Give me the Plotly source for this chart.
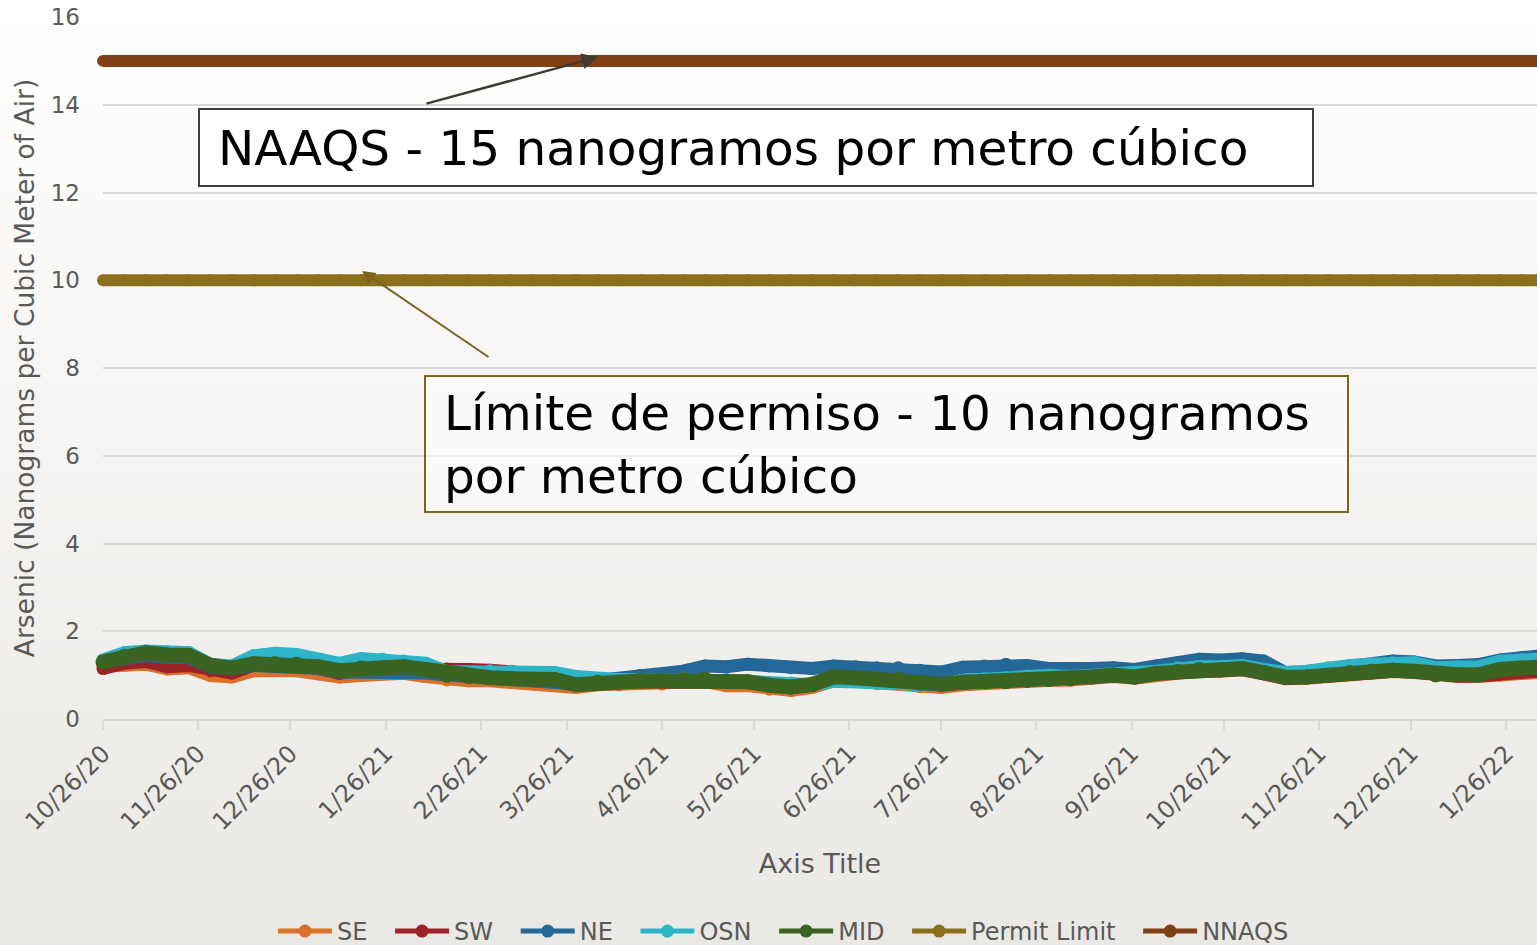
import pandas as pd
import plotly.graph_objects as go

# ---------------- data ----------------
dates = list(pd.date_range("2020-10-26", periods=67, freq="7D")) + [pd.Timestamp("2022-02-05")]

SE = [1.20, 1.22, 1.25, 1.14, 1.17, 0.99, 0.96, 1.10, 1.11, 1.10, 1.03, 0.96,
      0.99, 1.03, 1.04, 0.97, 0.89, 0.87, 0.87, 0.84, 0.80, 0.81, 0.72,
      0.78, 0.78, 0.81, 0.80, 0.84, 0.86, 0.76, 0.76, 0.68, 0.65, 0.72,
      0.87, 0.86, 0.81, 0.80, 0.74, 0.72, 0.78, 0.82, 0.83, 0.86, 0.88,
      0.89, 0.93, 0.97, 0.93, 1.01, 1.05, 1.10, 1.09, 1.12, 1.03, 0.92,
      0.93, 0.97, 1.03, 1.06, 1.08, 1.06, 0.98, 0.97, 0.97, 1.00, 1.04, 1.06]

SW = [1.15, 1.27, 1.31, 1.19, 1.22, 1.10, 1.05, 1.23, 1.23, 1.22, 1.16, 1.04,
      1.13, 1.14, 1.15, 1.10, 1.14, 1.13, 1.11, 1.08, 1.03, 1.00, 0.88,
      0.82, 0.82, 0.85, 0.86, 0.88, 0.89, 0.83, 0.83, 0.75, 0.71, 0.77,
      0.92, 0.92, 0.88, 0.88, 0.80, 0.77, 0.82, 0.84, 0.84, 0.87, 0.89,
      0.90, 0.94, 0.98, 0.94, 1.02, 1.06, 1.11, 1.10, 1.13, 1.04, 0.93,
      0.94, 0.98, 1.04, 1.07, 1.09, 1.07, 0.99, 0.98, 0.98, 1.03, 1.06, 1.09]

NE = [1.30, 1.40, 1.45, 1.40, 1.40, 1.18, 1.14, 1.22, 1.22, 1.20, 1.15, 1.07,
      1.08, 1.10, 1.10, 1.05, 1.00, 0.97, 0.95, 0.93, 0.90, 0.88, 0.80,
      0.88, 0.92, 1.00, 1.00, 1.09, 1.21, 1.19, 1.25, 1.21, 1.17, 1.15,
      1.21, 1.19, 1.17, 1.17, 1.11, 1.07, 1.18, 1.21, 1.25, 1.22, 1.15,
      1.13, 1.15, 1.17, 1.13, 1.21, 1.28, 1.36, 1.345, 1.375, 1.32, 1.06,
      1.07, 1.15, 1.20, 1.24, 1.32, 1.30, 1.21, 1.22, 1.24, 1.345, 1.40, 1.43]

OSN = [1.35, 1.51, 1.55, 1.53, 1.51, 1.25, 1.21, 1.44, 1.50, 1.47, 1.36, 1.27,
       1.375, 1.36, 1.32, 1.27, 1.08, 1.07, 1.10, 1.09, 1.06, 1.06, 0.97,
       0.92, 0.90, 0.90, 0.90, 0.93, 0.93, 0.90, 0.86, 0.83, 0.82, 0.78,
       0.86, 0.86, 0.84, 0.81, 0.78, 0.76, 0.88, 0.92, 0.94, 0.98, 0.995,
       0.97, 0.98, 1.00, 1.06, 1.09, 1.17, 1.19, 1.19, 1.22, 1.13, 1.06,
       1.09, 1.17, 1.22, 1.25, 1.28, 1.28, 1.17, 1.19, 1.19, 1.32, 1.345, 1.36]

MID = [1.30, 1.43, 1.51, 1.46, 1.45, 1.22, 1.16, 1.26, 1.26, 1.25, 1.19, 1.10,
       1.16, 1.17, 1.19, 1.13, 1.00, 0.97, 0.94, 0.92, 0.90, 0.90, 0.78,
       0.84, 0.84, 0.87, 0.88, 0.90, 0.91, 0.85, 0.85, 0.77, 0.73, 0.79,
       0.96, 0.94, 0.90, 0.90, 0.82, 0.79, 0.84, 0.85, 0.85, 0.88, 0.90,
       0.92, 0.96, 1.00, 0.96, 1.04, 1.08, 1.13, 1.12, 1.15, 1.06, 0.95,
       0.96, 1.00, 1.06, 1.09, 1.11, 1.09, 1.01, 1.01, 1.01, 1.13, 1.16, 1.18]

PERMIT_LIMIT = [10] * len(dates)
NNAQS = [15] * len(dates)

tick_dates = ["2020-10-26", "2020-11-26", "2020-12-26", "2021-01-26", "2021-02-26",
              "2021-03-26", "2021-04-26", "2021-05-26", "2021-06-26", "2021-07-26",
              "2021-08-26", "2021-09-26", "2021-10-26", "2021-11-26", "2021-12-26",
              "2022-01-26"]
tick_labels = ["10/26/20", "11/26/20", "12/26/20", "1/26/21", "2/26/21", "3/26/21",
               "4/26/21", "5/26/21", "6/26/21", "7/26/21", "8/26/21", "9/26/21",
               "10/26/21", "11/26/21", "12/26/21", "1/26/22"]

series = [
    ("SE", SE, "#D9712A"),
    ("SW", SW, "#9B2226"),
    ("NE", NE, "#236896"),
    ("OSN", OSN, "#2DB4C8"),
    ("MID", MID, "#3B6321"),
    ("Permit Limit", PERMIT_LIMIT, "#8B6F1D"),
    ("NNAQS", NNAQS, "#7F4018"),
]

FONT = "DejaVu Sans"
GREY = "#595959"

fig = go.Figure()

# ---------------- background gradient ----------------
W, H = 1537, 945
L, T, B = 103, 17, 226
PW, PH = W - L, H - T - B
n_bands = 90
top_rgb = (255, 255, 255)
bot_rgb = (234, 232, 228)
shapes = []
for i in range(n_bands):
    t = (i + 0.5) / n_bands
    c = tuple(round(top_rgb[k] + (bot_rgb[k] - top_rgb[k]) * t) for k in range(3))
    py0 = H * i / n_bands - 1
    py1 = H * (i + 1) / n_bands + 1
    shapes.append(dict(type="rect", xref="paper", yref="paper",
                       x0=-L / PW, x1=1.0,
                       y0=(H - B - py1) / PH, y1=(H - B - py0) / PH,
                       line=dict(width=0), fillcolor="rgb(%d,%d,%d)" % c, layer="below"))

# ---------------- traces ----------------
for name, vals, col in series:
    if name == "MID":
        w = 15
    elif name in ("Permit Limit", "NNAQS"):
        w = 12
    else:
        w = 13
    fig.add_trace(go.Scatter(
        x=dates, y=vals, mode="lines+markers", name=name,
        line=dict(color=col, width=w),
        marker=dict(color=col, size=w),
        cliponaxis=False,
        showlegend=False, hoverinfo="skip"))

# legend proxies
GAP = "\u00a0\u00a0\u200a"
for name, vals, col in series:
    fig.add_trace(go.Scatter(
        x=[None], y=[None], mode="lines+markers", name=name + GAP,
        line=dict(color=col, width=5), marker=dict(color=col, size=13),
        showlegend=True))

# ---------------- annotation boxes ----------------
def px(xp):
    return (xp - L) / PW

def py(yp):
    return (H - B - yp) / PH

shapes.append(dict(type="rect", xref="paper", yref="paper",
                   x0=px(199), x1=px(1313), y0=py(186), y1=py(109),
                   line=dict(color="#3F3F3F", width=2), fillcolor="rgba(255,255,255,0.85)"))
shapes.append(dict(type="rect", xref="paper", yref="paper",
                   x0=px(425), x1=px(1348), y0=py(512), y1=py(376),
                   line=dict(color="#7F6320", width=2), fillcolor="rgba(255,255,255,0.5)"))

annotations = [
    dict(xref="paper", yref="paper", x=px(216), y=py(148), xanchor="left", yanchor="middle",
         text="NAAQS - 15 nanogramos por metro cúbico", showarrow=False,
         font=dict(family=FONT, size=48.5, color="#000000")),
    dict(xref="paper", yref="paper", x=px(442), y=py(444), xanchor="left", yanchor="middle",
         align="left",
         text="Límite de permiso - 10 nanogramos<br>por metro cúbico", showarrow=False,
         font=dict(family=FONT, size=48.5, color="#000000")),
    dict(xref="paper", yref="paper", x=px(598), y=py(57), ax=425 - 598, ay=104 - 57,
         axref="pixel", ayref="pixel", text="", showarrow=True,
         arrowhead=2, arrowsize=1.3, arrowwidth=2.5, arrowcolor="#403A33"),
    dict(xref="paper", yref="paper", x=px(362), y=py(271), ax=490 - 362, ay=358 - 271,
         axref="pixel", ayref="pixel", text="", showarrow=True,
         arrowhead=2, arrowsize=1.3, arrowwidth=2, arrowcolor="#7F6320"),
]

fig.update_layout(
    width=W, height=H,
    margin=dict(l=L, r=0, t=T, b=B, autoexpand=False),
    paper_bgcolor="#FFFFFF", plot_bgcolor="rgba(0,0,0,0)",
    shapes=shapes, annotations=annotations,
    font=dict(family=FONT, color=GREY),
    showlegend=True,
    legend=dict(orientation="h", x=px(273), xanchor="left", y=py(909), yanchor="top",
                font=dict(family=FONT, size=24, color=GREY),
                bgcolor="rgba(0,0,0,0)", itemwidth=54, tracegroupgap=0),
)

fig.update_xaxes(
    type="date", range=["2020-10-26", "2022-02-05"],
    tickmode="array", tickvals=tick_dates, ticktext=tick_labels, tickangle=-45,
    tickfont=dict(family=FONT, size=24, color=GREY),
    ticks="outside", ticklen=9, tickwidth=2, tickcolor="#D9D9D9",
    showline=True, linecolor="#D9D9D9", linewidth=2, showgrid=False, zeroline=False,
    title=dict(text="Axis Title", font=dict(family=FONT, size=27, color=GREY), standoff=19),
)
fig.update_yaxes(
    range=[0, 16], dtick=2, tick0=0,
    tickfont=dict(family=FONT, size=23, color=GREY),
    showgrid=True, gridcolor="#D9D9D9", gridwidth=2, zeroline=False, showline=False,
    ticks="", ticklabelstandoff=22,
    title=dict(text="Arsenic (Nanograms per Cubic Meter of Air)",
               font=dict(family=FONT, size=26.5, color=GREY), standoff=8),
)

fig.write_html("out.html", config={"displayModeBar": False},
               post_script="document.body.style.margin='0';document.body.style.overflow='hidden';")
